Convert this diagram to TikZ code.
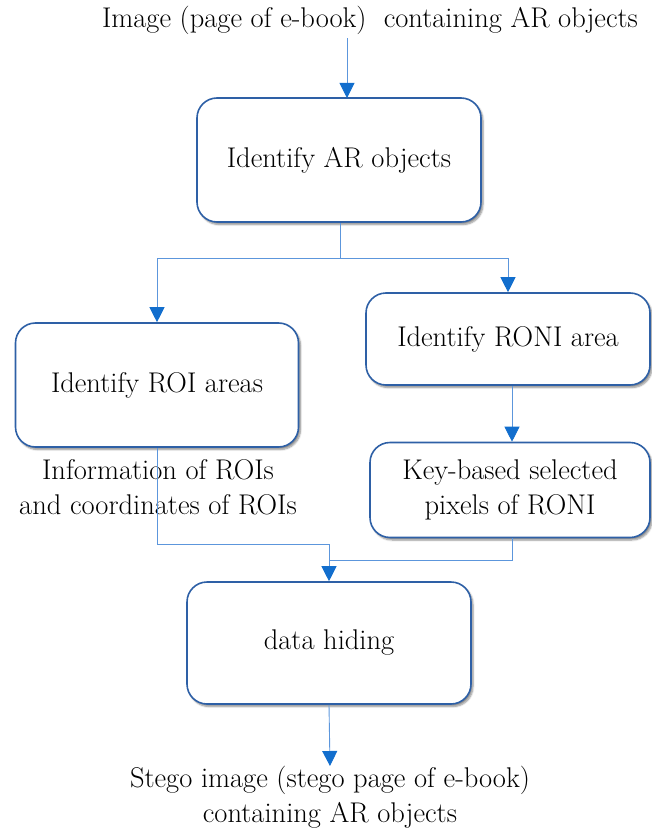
\documentclass[tikz,border=0pt]{standalone}
\usepackage{tikz}
\usetikzlibrary{arrows.meta,shadows.blur,calc}

\definecolor{boxblue}{RGB}{46,96,166}
\definecolor{tipblue}{RGB}{18,110,205}
\definecolor{lineblue}{RGB}{92,150,220}

\begin{document}
\begin{tikzpicture}[x=1pt,y=-1pt,
  box/.style={draw=boxblue,line width=1.6pt,rounded corners=20pt,fill=white,
    align=center,font=\fontsize{28.5}{35}\selectfont,
    blur shadow={shadow xshift=2pt,shadow yshift=-2.5pt,shadow blur steps=6,shadow opacity=45}},
  lbl/.style={align=center,font=\fontsize{28.5}{35}\selectfont,inner sep=0pt},
  link/.style={draw=lineblue,line width=0.9pt},
  tip/.style={-{Triangle[length=15pt,width=15pt,fill=tipblue,color=tipblue]}}]

\useasboundingbox (0,0) rectangle (651,834);

\coordinate (split) at (340,258);
\coordinate (arin) at (347,98);
\coordinate (J1) at (329,544);
\coordinate (J2) at (329,560);

\node[lbl] (img) at (370,20) {Image (page of e-book)\ \ containing AR objects};

\node[box,minimum width=284pt,minimum height=124pt] (ar) at (339,160) {Identify AR objects};
\node[box,minimum width=283pt,minimum height=124pt] (roi) at (157,385) {Identify ROI areas};
\node[box,minimum width=284pt,minimum height=92pt] (roni) at (508,339) {Identify RONI area};
\node[box,minimum width=280pt,minimum height=95pt] (key) at (510,490) {Key-based selected\\pixels of RONI};
\node[box,minimum width=284pt,minimum height=122pt] (dh) at (329,643) {data hiding};

\node[lbl] (roiinfo) at (158,487) {Information of ROIs\\and coordinates of ROIs};
\node[lbl,anchor=north] (stego) at (330,766) {Stego image (stego page of e-book)\\containing AR objects};

% top input
\draw[link,tip] ([yshift=-4pt]img.south -| arin) -- (arin);

% split into the two branches
\draw[link] (ar.south -| split) -- (split);
\draw[link,tip] (split) -| (roi.north);
\draw[link,tip] (split) -| (roni.north);
\draw[link,tip] ($(roni.south)+(4,0)$) -- ($(key.north)+(2,0)$);

% merge into data hiding
\draw[link] (roi.south) |- (J1);
\draw[link] ($(key.south)+(2,0)$) |- (J2);
\draw[link,tip] (J1) -- (dh.north);

% output
\draw[link,tip] (dh.south) -- (stego.north);

\end{tikzpicture}
\end{document}
